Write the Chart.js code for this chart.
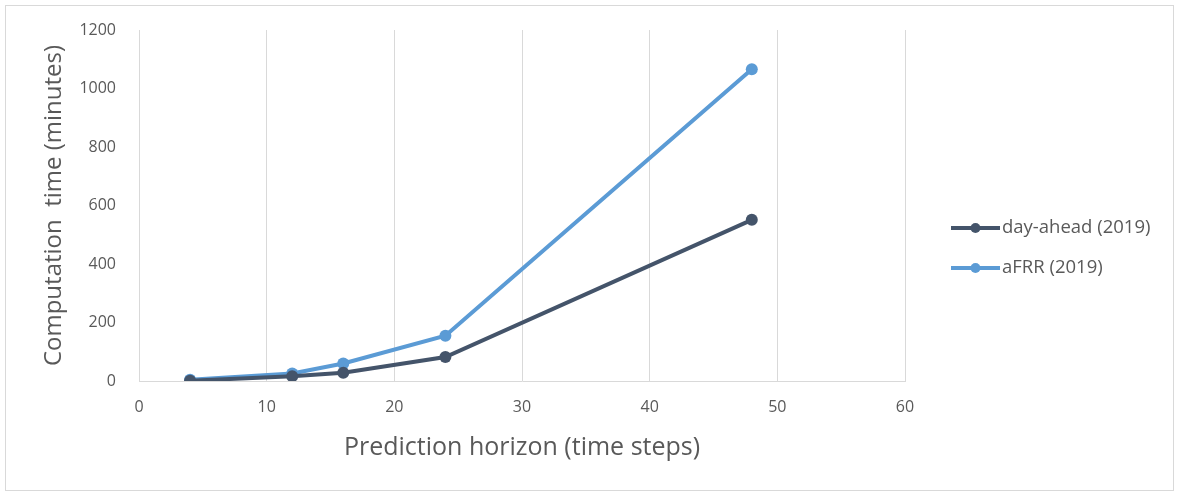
<!DOCTYPE html>
<html>
<head>
<meta charset="utf-8">
<script src="https://cdn.jsdelivr.net/npm/chart.js@4/dist/chart.umd.min.js"></script>
<style>
  body { margin: 0; background: #fff; }
  #frame { position: absolute; left: 5px; top: 5px; width: 1167px; height: 484px; border: 1px solid #d9d9d9; }
  #wrap { position: absolute; left: 0; top: 0; width: 1178px; height: 494px; }
</style>
</head>
<body>
<div id="frame"></div>
<div id="wrap"><canvas id="chart" width="1178" height="494"></canvas></div>
<script>
// prediction horizon (time steps)
var horizon = [4, 12, 16, 24, 48];
// computation time (minutes)
var dayAhead = [1, 16, 28, 82, 551];
var afrr = [4, 26, 60, 155, 1066];
var seriesNames = ['day-ahead (2019)', 'aFRR (2019)'];
var seriesColors = ['#44546A', '#5B9BD5'];
var xTicks = [0, 10, 20, 30, 40, 50, 60];
var yTicks = [0, 200, 400, 600, 800, 1000, 1200];

var fontFam = '"Open Sans", "Noto Sans", sans-serif';
var textGray = '#595959';

function toPoints(xs, ys) {
  var pts = [];
  for (var i = 0; i < xs.length; i++) pts.push({ x: xs[i], y: ys[i] });
  return pts;
}

// legend drawn as line + marker, like the office style
var sideLegend = {
  id: 'sideLegend',
  afterDraw: function (chart) {
    var ctx = chart.ctx;
    var sets = chart.data.datasets;
    ctx.save();
    for (var i = 0; i < sets.length; i++) {
      var y = 228 + i * 40;
      ctx.strokeStyle = sets[i].borderColor;
      ctx.lineWidth = 4;
      ctx.beginPath();
      ctx.moveTo(951, y);
      ctx.lineTo(1000, y);
      ctx.stroke();
      ctx.fillStyle = sets[i].borderColor;
      ctx.beginPath();
      ctx.arc(975.5, y, 5, 0, Math.PI * 2);
      ctx.fill();
      ctx.fillStyle = textGray;
      ctx.font = '18.5px ' + fontFam;
      ctx.textBaseline = 'middle';
      ctx.fillText(sets[i].label, 1002, y);
    }
    ctx.restore();
  }
};

function plainTick(v) { return String(v); }

var config = {
  type: 'line',
  data: {
    datasets: [
      {
        label: seriesNames[0],
        data: toPoints(horizon, dayAhead),
        borderColor: seriesColors[0],
        backgroundColor: seriesColors[0],
        borderWidth: 4,
        pointRadius: 6,
        pointBorderWidth: 0,
        pointHoverRadius: 6,
        tension: 0
      },
      {
        label: seriesNames[1],
        data: toPoints(horizon, afrr),
        borderColor: seriesColors[1],
        backgroundColor: seriesColors[1],
        borderWidth: 4,
        pointRadius: 6,
        pointBorderWidth: 0,
        pointHoverRadius: 6,
        tension: 0
      }
    ]
  },
  options: {
    responsive: false,
    animation: false,
    layout: { padding: { left: 0, top: 30, right: 273, bottom: 0 } },
    plugins: {
      legend: { display: false },
      tooltip: { enabled: false }
    },
    scales: {
      x: {
        type: 'linear',
        min: 0,
        max: 60,
        afterFit: function (s) { s.height = 113; },
        afterBuildTicks: function (s) { s.ticks = xTicks.map(function (v) { return { value: v }; }); },
        grid: { color: '#d9d9d9', lineWidth: 1, drawTicks: false },
        border: { color: '#d9d9d9', width: 1 },
        ticks: { color: textGray, font: { family: fontFam, size: 16 }, padding: 17, callback: plainTick },
        title: {
          display: true,
          text: 'Prediction horizon (time steps)',
          color: textGray,
          font: { family: fontFam, size: 25 },
          padding: { top: 0, bottom: 31 }
        }
      },
      y: {
        min: 0,
        max: 1200,
        afterFit: function (s) { s.width = 139; },
        afterBuildTicks: function (s) { s.ticks = yTicks.map(function (v) { return { value: v }; }); },
        grid: { display: false },
        border: { color: '#d9d9d9', width: 1 },
        ticks: { color: textGray, font: { family: fontFam, size: 16 }, padding: 15, callback: plainTick },
        title: {
          display: true,
          text: 'Computation  time (minutes)',
          color: textGray,
          font: { family: fontFam, size: 24 },
          padding: { top: 40, bottom: 0 }
        }
      }
    }
  },
  plugins: [sideLegend]
};

var ctx = document.getElementById('chart').getContext('2d');
window.myLine = new Chart(ctx, config);
</script>
</body>
</html>
